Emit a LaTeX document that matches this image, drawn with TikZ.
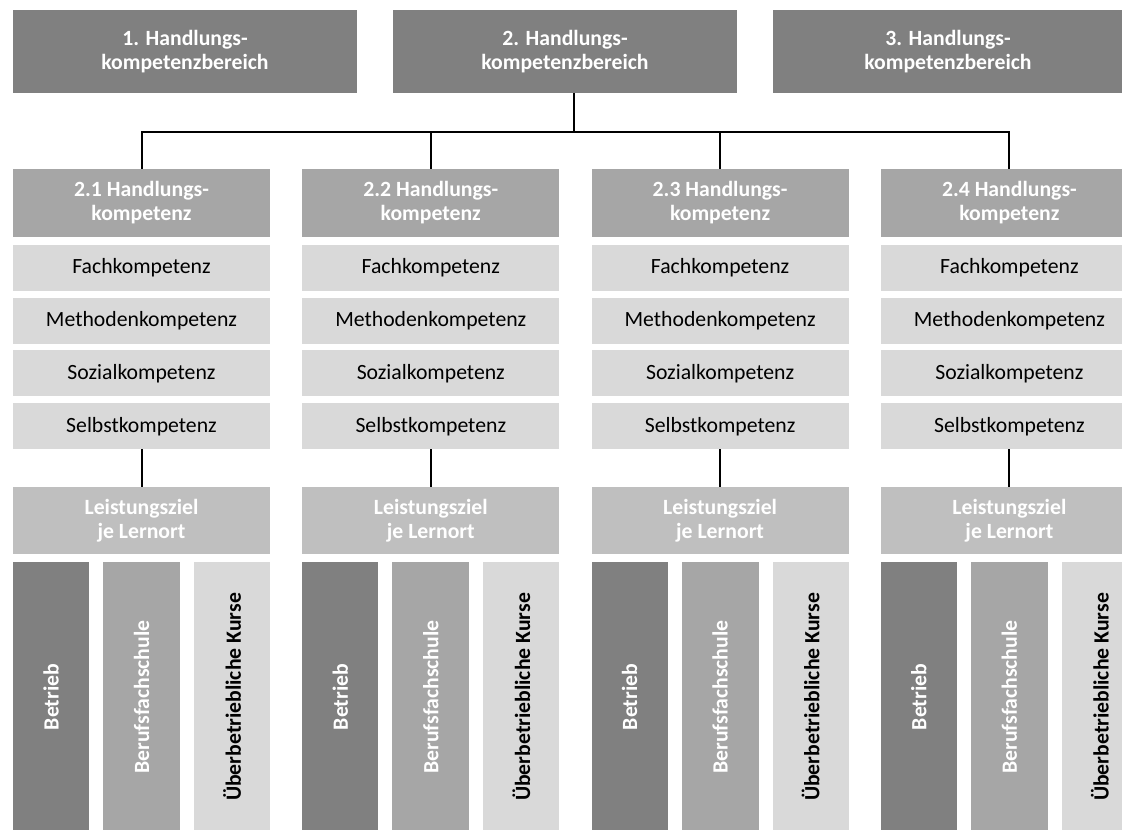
\documentclass[tikz,border=0pt]{standalone}
\usepackage{fontspec}
\setmainfont{Carlito}
\usepackage{xcolor}
\usepackage{tikz}
\usetikzlibrary{positioning,calc}
\definecolor{dunkel}{HTML}{808080}
\definecolor{mittel}{HTML}{A6A6A6}
\definecolor{hell}{HTML}{D9D9D9}
\definecolor{ziel}{HTML}{BFBFBF}

\begin{document}
\begin{tikzpicture}[x=0.75pt,y=-0.75pt,
    box/.style={inner sep=0pt,outer sep=0pt,align=center,font=\fontsize{16.3}{18}\selectfont},
    bereich/.style={box,fill=dunkel,text=white,font=\fontsize{16.3}{18}\selectfont\bfseries,minimum width=258pt,minimum height=62.25pt},
    kopf/.style={box,fill=mittel,text=white,font=\fontsize{16.3}{18}\selectfont\bfseries,minimum width=192.75pt,minimum height=51pt},
    teil/.style={box,fill=hell,text=black,minimum width=192.75pt,minimum height=34.5pt},
    zielbox/.style={box,fill=ziel,text=white,font=\fontsize{16.3}{18}\selectfont\bfseries,minimum width=192.75pt,minimum height=50.25pt},
    ort/.style={box,font=\fontsize{16.3}{18}\selectfont\bfseries,minimum width=57pt,minimum height=202.5pt},
    verb/.style={black,line width=1.5pt}]
  \useasboundingbox (0,0) rectangle (1122,830);
  % obere Ebene
  \node[bereich] (top1) at (185,51.5){1. Handlungs-\\kompetenzbereich};
  \node[bereich] (top2) at (565,51.5){2. Handlungs-\\kompetenzbereich};
  \node[bereich,minimum width=262.5pt] (top3) at (948,51.5){3. Handlungs-\\kompetenzbereich};
  \coordinate (hub) at (574,132);
  \draw[verb] (hub |- top2.south) -- (hub);
  % Spalten 2.1 bis 2.4
  \foreach \i in {1,...,4}{
    \pgfmathsetmacro{\cx}{141.5+289.3*(\i-1)}
    \node[kopf] (kopf\i) at (\cx,203){2.\i\ Handlungs-\\kompetenz};
    \node[teil] (fach\i) at (\cx,268){Fachkompetenz};
    \node[teil] (meth\i) at (\cx,321){Methodenkompetenz};
    \node[teil] (soz\i) at (\cx,373.5){Sozialkompetenz};
    \node[teil] (selb\i) at (\cx,426.5){Selbstkompetenz};
    \node[zielbox] (ziel\i) at (\cx,520.5){Leistungsziel\\je Lernort};
    \node[ort,fill=dunkel,text=white] (betr\i) at (\cx-90.5,697){\rotatebox{90}{Betrieb}};
    \node[ort,fill=mittel,text=white,minimum width=57.75pt] (schule\i) at (\cx,697){\rotatebox{90}{Berufsfachschule}};
    \node[ort,fill=hell,text=black] (kurs\i) at (\cx+90.5,697){\rotatebox{90}{Überbetriebliche Kurse}};
    \draw[verb] (hub) -| (kopf\i.north);
    \draw[verb] (selb\i) -- (ziel\i);
  }
\end{tikzpicture}
\end{document}
